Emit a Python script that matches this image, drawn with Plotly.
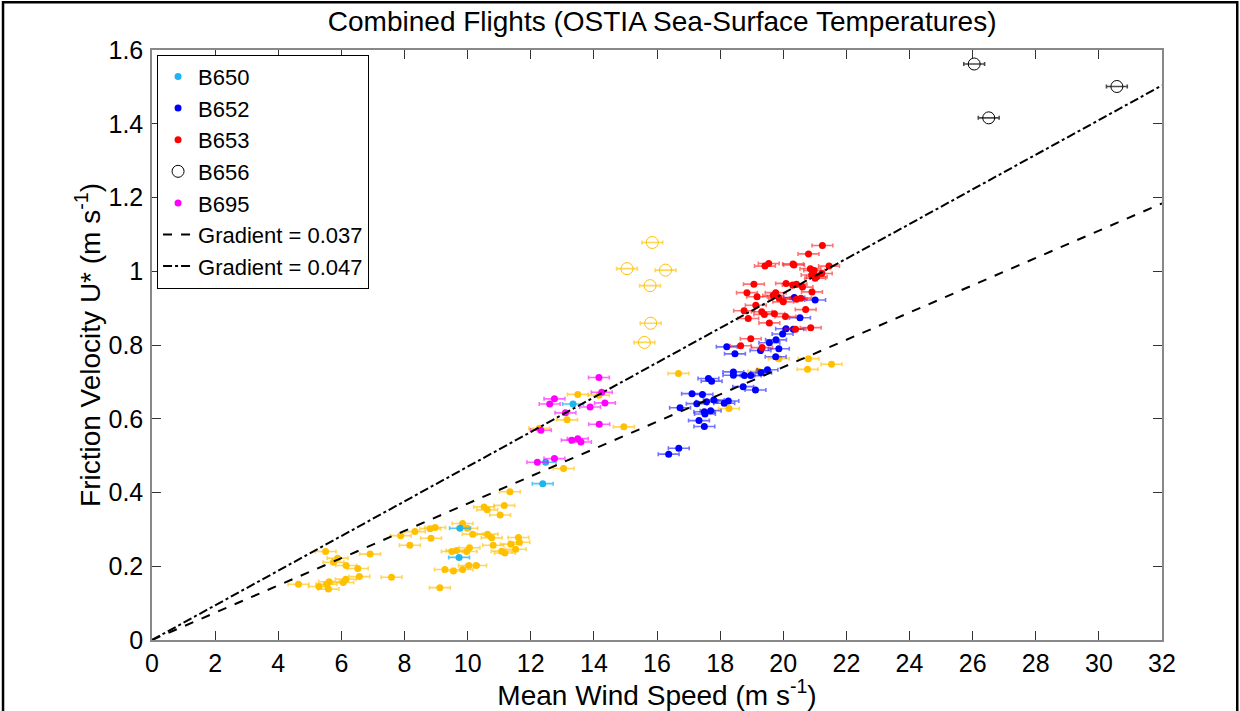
import plotly.graph_objects as go

# ---- data ----
b650_x = [13.34, 9.76, 9.73, 12.47, 12.38]
b650_y = [0.640, 0.303, 0.224, 0.482, 0.424]

b652_x = [20.35, 21.01, 20.53, 20.09, 20.32, 19.98, 19.77, 19.56, 18.21, 19.86, 19.28, 18.47,
          19.76, 19.50, 19.30, 18.42, 18.42, 18.77, 18.97, 17.63, 17.73, 18.73, 19.12, 17.11,
          17.44, 16.73, 17.26, 17.57, 17.80, 18.13, 18.26, 17.50, 17.70, 17.52, 17.33, 17.50,
          16.69, 16.37]
b652_y = [0.929, 0.922, 0.874, 0.844, 0.843, 0.830, 0.814, 0.806, 0.795, 0.790, 0.785, 0.776,
          0.768, 0.733, 0.725, 0.727, 0.718, 0.717, 0.717, 0.709, 0.702, 0.687, 0.678, 0.668,
          0.666, 0.630, 0.641, 0.646, 0.651, 0.642, 0.648, 0.619, 0.622, 0.613, 0.595, 0.579,
          0.520, 0.504]

b653_x = [21.24, 20.80, 19.54, 19.42, 20.31, 20.34, 20.86, 20.98, 21.45, 20.90, 21.06, 21.22,
          21.01, 19.07, 20.09, 20.30, 20.42, 20.61, 20.91, 18.85, 19.17, 19.76, 19.68, 19.87,
          20.56, 20.42, 20.00, 19.13, 18.76, 19.32, 19.40, 19.72, 18.89, 20.07, 20.71, 19.56,
          20.87, 20.39, 18.97, 18.65, 19.33]
b653_y = [1.070, 1.047, 1.021, 1.014, 1.020, 1.017, 1.007, 1.002, 1.014, 0.990, 0.985, 0.994,
          0.981, 0.965, 0.967, 0.963, 0.965, 0.957, 0.944, 0.942, 0.931, 0.942, 0.934, 0.927,
          0.927, 0.924, 0.917, 0.908, 0.893, 0.890, 0.883, 0.885, 0.872, 0.877, 0.896, 0.860,
          0.847, 0.843, 0.817, 0.798, 0.793]

b656_x = [26.05, 30.57, 26.51]
b656_y = [1.562, 1.501, 1.416]

b695_x = [14.16, 14.25, 12.75, 12.60, 13.88, 14.35, 13.10, 14.17, 12.32, 13.30, 13.49, 13.59,
          12.75, 12.21]
b695_y = [0.712, 0.672, 0.654, 0.640, 0.632, 0.643, 0.616, 0.585, 0.569, 0.542, 0.546, 0.537,
          0.492, 0.482]

other_x = [11.34, 11.16, 10.52, 10.62, 11.03, 9.84, 9.99, 8.97, 8.81, 8.33, 7.88, 8.84, 10.16,
           10.63, 10.76, 11.61, 11.64, 11.37, 11.52, 11.08, 11.18, 10.81, 10.06, 9.97, 9.65,
           9.50, 8.17, 10.04, 10.27, 9.84, 9.55, 9.28, 9.12, 7.59, 6.91, 6.57, 6.52, 6.15,
           6.14, 6.06, 5.88, 5.75, 5.50, 5.61, 5.53, 5.29, 5.59, 4.64,
           13.49, 14.16, 13.15, 14.95, 12.27, 13.04, 16.68, 19.86, 20.80, 20.77, 21.53, 18.28,
           19.21]
other_y = [0.402, 0.365, 0.361, 0.353, 0.339, 0.316, 0.303, 0.305, 0.302, 0.294, 0.283, 0.276,
           0.287, 0.287, 0.277, 0.278, 0.265, 0.260, 0.246, 0.241, 0.236, 0.257, 0.250, 0.240,
           0.243, 0.240, 0.257, 0.202, 0.202, 0.191, 0.187, 0.191, 0.142, 0.170, 0.233, 0.172,
           0.194, 0.202, 0.165, 0.156, 0.222, 0.211, 0.240, 0.158, 0.151, 0.145, 0.138, 0.151,
           0.666, 0.664, 0.597, 0.578, 0.574, 0.465, 0.723, 0.763, 0.763, 0.734, 0.748, 0.628,
           0.729]

other_open_x = [15.85, 15.05, 16.27, 15.78, 15.80, 15.60]
other_open_y = [1.078, 1.007, 1.003, 0.961, 0.859, 0.807]

wind_err = 0.33
grad_lo = 0.037
grad_hi = 0.047
line_x = [0, 32]

x_ticks = list(range(0, 33, 2))
y_ticks = [0, 0.2, 0.4, 0.6, 0.8, 1.0, 1.2, 1.4, 1.6]
y_tick_text = ["0", "0.2", "0.4", "0.6", "0.8", "1", "1.2", "1.4", "1.6"]

FONT = "Liberation Sans, Arial, sans-serif"

fig = go.Figure()


def dots(x, y, name, color, ecolor, show=True, size=7, symbol="circle"):
    fig.add_trace(go.Scatter(
        x=x, y=y, mode="markers", name=name, showlegend=show,
        marker=dict(color=color, size=size, symbol=symbol,
                    line=dict(width=0 if symbol == "circle" else 1, color=color)),
        error_x=dict(type="constant", value=wind_err, color=ecolor, thickness=1.6, width=2),
    ))


dots(other_x, other_y, "other", "#FFC000", "rgba(255,192,0,0.65)", show=False)
dots(other_open_x, other_open_y, "other open", "#FFC000", "rgba(255,192,0,0.65)",
     show=False, size=12, symbol="circle-open")
dots(b650_x, b650_y, "B650", "#1EB4F0", "rgba(30,180,240,0.75)")
dots(b652_x, b652_y, "B652", "#0000FF", "rgba(0,0,255,0.55)")
dots(b653_x, b653_y, "B653", "#FF0000", "rgba(255,0,0,0.55)")
dots(b656_x, b656_y, "B656", "#000000", "rgba(0,0,0,0.7)", size=12, symbol="circle-open")
dots(b695_x, b695_y, "B695", "#FF00FF", "rgba(255,0,255,0.6)")

fig.add_trace(go.Scatter(
    x=line_x, y=[grad_lo * v for v in line_x], mode="lines", name="Gradient = 0.037",
    line=dict(color="black", width=2, dash="dash")))
fig.add_trace(go.Scatter(
    x=line_x, y=[grad_hi * v for v in line_x], mode="lines", name="Gradient = 0.047",
    line=dict(color="black", width=2, dash="dashdot")))

fig.update_layout(
    width=1240, height=711,
    margin=dict(l=152, r=78, t=50, b=71),
    paper_bgcolor="white", plot_bgcolor="white",
    font=dict(family=FONT, size=24, color="black"),
    title=dict(text="Combined Flights (OSTIA Sea-Surface Temperatures)",
               x=0.534, xanchor="center", yref="container", y=0.970, yanchor="middle",
               font=dict(size=28, family=FONT)),
    showlegend=True,
    legend=dict(x=0.005, y=0.992, xanchor="left", yanchor="top",
                bgcolor="white", bordercolor="black", borderwidth=1,
                font=dict(size=22, family=FONT), tracegroupgap=0, itemwidth=30),
    xaxis=dict(range=[0, 32], tickvals=x_ticks, ticks="inside", ticklen=9,
               tickcolor="#333333", showline=True, linecolor="#888888", linewidth=1.5,
               mirror="ticks", showgrid=False, zeroline=False,
               title=dict(text="Mean Wind Speed (m s<sup>-1</sup>)", standoff=2,
                          font=dict(size=28)),
               tickfont=dict(size=25)),
    yaxis=dict(range=[0, 1.6], tickvals=y_ticks, ticktext=y_tick_text, ticks="inside",
               ticklen=9, tickcolor="#333333", showline=True, linecolor="#888888",
               linewidth=1.5, mirror="ticks", showgrid=False, zeroline=False,
               ticklabelstandoff=2,
               title=dict(text="Friction Velocity U* (m s<sup>-1</sup>)", standoff=0,
                          font=dict(size=28)),
               tickfont=dict(size=25)),
    shapes=[dict(type="rect", xref="paper", yref="paper",
                 x0=-0.1475, x1=1.0745, y0=-0.2, y1=1.081,
                 line=dict(color="black", width=2.5), layer="above")],
)

fig.write_html("out.html")
